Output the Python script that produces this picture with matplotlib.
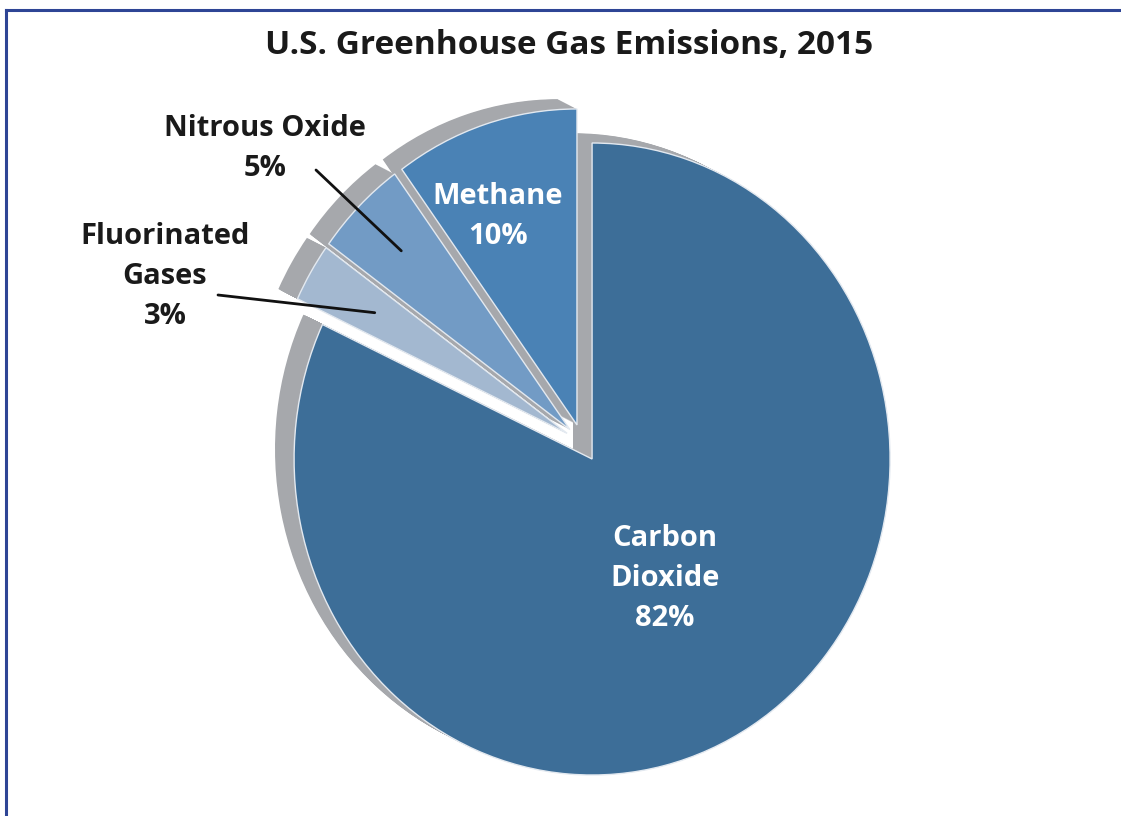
import numpy as np
import matplotlib.pyplot as plt
from matplotlib.lines import Line2D

# Data
gases = ['Carbon\nDioxide', 'Fluorinated\nGases', 'Nitrous Oxide', 'Methane']
shares = [82, 3, 5, 10]
face_colors = ['#3d6e98', '#a3b8d0', '#729bc5', '#4a82b5']
explode = [0.06, 0.06, 0.06, 0.06]

plt.rcParams['font.family'] = ['Open Sans', 'DejaVu Sans']
plt.rcParams['font.weight'] = 'bold'

W, H = 1121, 816
fig = plt.figure(figsize=(W / 100, H / 100), dpi=100)
ax = fig.add_axes([0, 0, 1, 1])

# fake 3D side: stack gray copies shifted up-left
depth = np.array([-0.064, 0.031])
for t in np.linspace(1.0, 0.05, 20):
    ax.pie(shares, explode=explode, startangle=90, counterclock=False,
           colors=['#a6a8ac'] * 4, center=(depth[0] * t, depth[1] * t),
           wedgeprops=dict(linewidth=0))

wedges, _ = ax.pie(shares, explode=explode, startangle=90, counterclock=False,
                   colors=face_colors,
                   wedgeprops=dict(edgecolor='#e3e9f0', linewidth=1))

# stretch the pie a bit vertically (pixel scale per data unit)
ox, oy, sx, sy = 582.5, 373, 298, 316
ax.set_aspect('auto')
ax.set_xlim(-ox / sx, (W - ox) / sx)
ax.set_ylim(-oy / sy, (H - oy) / sy)
ax.axis('off')


def fpos(x, y):
    # pixel position (from top-left) -> figure fraction
    return x / W, 1 - y / H


fig.text(*fpos(569, 46), 'U.S. Greenhouse Gas Emissions, 2015', ha='center',
         va='center', fontsize=24, color='#1a1a1a')

txt = dict(ha='center', va='center', fontsize=21, linespacing=1.5)
fig.text(*fpos(665, 578), gases[0] + '\n%d%%' % shares[0], color='white', **txt)
fig.text(*fpos(165, 277), gases[1] + '\n%d%%' % shares[1], color='#1a1a1a', **txt)
fig.text(*fpos(265, 149), gases[2] + '\n%d%%' % shares[2], color='#1a1a1a', **txt)
fig.text(*fpos(498, 216), gases[3] + '\n%d%%' % shares[3], color='white', **txt)

# leader lines into the two small slices
for i, start, r in [(1, (218, 295), 0.75), (2, (316, 170), 0.8)]:
    w = wedges[i]
    a = np.deg2rad((w.theta1 + w.theta2) / 2)
    end = (w.center[0] + r * np.cos(a), w.center[1] + r * np.sin(a))
    ax.annotate('', xy=end, xycoords='data', xytext=fpos(*start),
                textcoords='figure fraction',
                arrowprops=dict(arrowstyle='-', color='#111111', lw=2,
                                shrinkA=0, shrinkB=0))

# frame lines (left and top only)
fig.add_artist(Line2D([6 / W, 6 / W], [0, 1 - 10 / H], color='#2e4595', lw=2.2))
fig.add_artist(Line2D([6 / W, 1], [1 - 10 / H, 1 - 10 / H], color='#2e4595', lw=2.2))

fig.savefig('out.png', dpi=100)
